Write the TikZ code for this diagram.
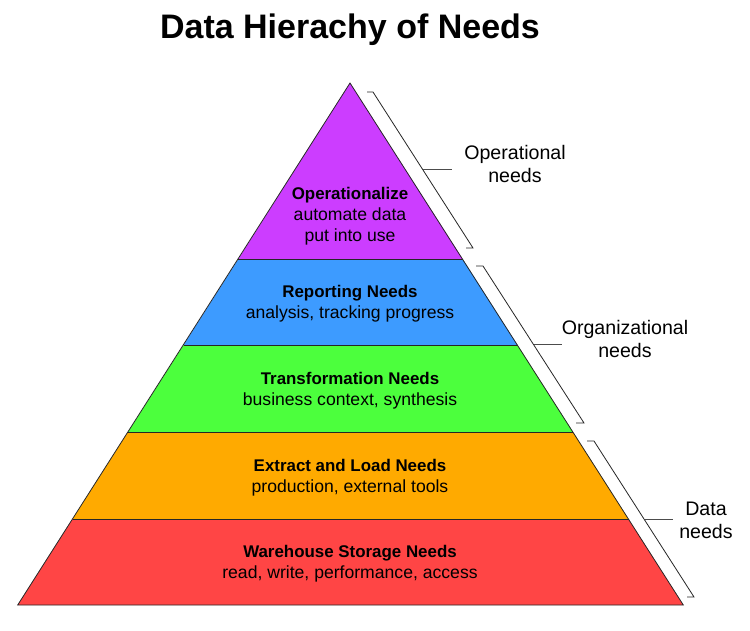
\documentclass[tikz,border=0pt]{standalone}
\usepackage{fontspec}
\setmainfont{Liberation Sans}
\definecolor{cpurple}{HTML}{CC3DFF}
\definecolor{cblue}{HTML}{3D9BFF}
\definecolor{cgreen}{HTML}{4CFF3D}
\definecolor{corange}{HTML}{FFAA00}
\definecolor{cred}{HTML}{FF4545}
\newcommand{\hd}[1]{{\fontsize{16.9}{21}\bfseries\selectfont #1}}
\begin{document}
\begin{tikzpicture}[x=1pt,y=-1pt,
  layertext/.style={align=center,font=\fontsize{17.6}{21}\selectfont,inner sep=0pt},
  sidelabel/.style={align=center,font=\fontsize{19.6}{23}\selectfont,inner sep=0pt},
  edge/.style={draw=black!85,line width=0.8pt},
  bracket/.style={draw=black!85,line width=0.8pt},
  midline/.style={draw=black!70,line width=0.8pt}]
\useasboundingbox (0,0) rectangle (750,630);
% layers
\fill[cpurple] (350,83) -- (462.7,259) -- (238.3,259) -- cycle;
\fill[cblue] (238.3,259) -- (462.7,259) -- (517.5,345) -- (183.5,345) -- cycle;
\fill[cgreen] (183.5,345) -- (517.5,345) -- (573,432) -- (128,432) -- cycle;
\fill[corange] (128,432) -- (573,432) -- (628.5,519) -- (72.5,519) -- cycle;
\fill[cred] (72.5,519) -- (628.5,519) -- (683.3,605) -- (17.7,605) -- cycle;
\draw[edge,line join=miter] (350,83) -- (683.3,605) -- (17.7,605) -- cycle;
\draw[edge] (238.3,259) -- (462.7,259);
\draw[edge] (183.5,345) -- (517.5,345);
\draw[edge] (128,432) -- (573,432);
\draw[edge] (72.5,519) -- (628.5,519);
% title
\node[font=\fontsize{34}{40}\bfseries\selectfont] (title) at (350,30) {Data Hierachy of Needs};
% layer texts
\node[layertext] (op) at (350,216.5) {\hd{Operationalize}\\automate data\\put into use};
\node[layertext] (rep) at (350,304) {\hd{Reporting Needs}\\analysis, tracking progress};
\node[layertext] (tra) at (350,391) {\hd{Transformation Needs}\\business context, synthesis};
\node[layertext] (ext) at (350,478) {\hd{Extract and Load Needs}\\production, external tools};
\node[layertext] (war) at (350,564) {\hd{Warehouse Storage Needs}\\read, write, performance, access};
% brackets
\draw[bracket] (367,92) -- (373,92) -- (473,248) -- (466,248);
\draw[bracket] (476,266) -- (483,266) -- (584,423) -- (576,423);
\draw[bracket] (587,441) -- (594,441) -- (694,597) -- (687,597);
\coordinate (b1a) at (423,169); \coordinate (b1b) at (452,169);
\coordinate (b2a) at (534,344); \coordinate (b2b) at (562,344);
\coordinate (b3a) at (645,519); \coordinate (b3b) at (673,519);
\draw[midline] (b1a) -- (b1b);
\draw[midline] (b2a) -- (b2b);
\draw[midline] (b3a) -- (b3b);
\node[sidelabel] (l1) at (515,164) {Operational\\needs};
\node[sidelabel] (l2) at (625,338.5) {Organizational\\needs};
\node[sidelabel] (l3) at (706,520.5) {Data\\needs};
\end{tikzpicture}
\end{document}
